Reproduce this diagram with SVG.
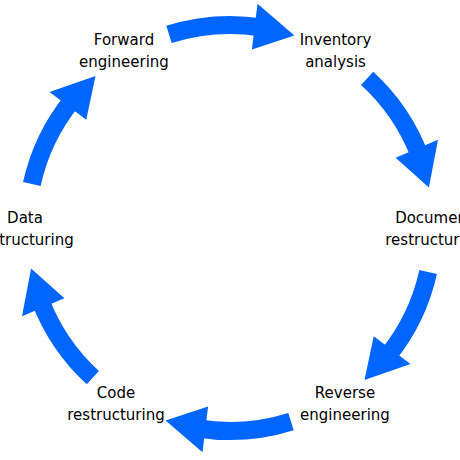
<svg xmlns="http://www.w3.org/2000/svg" xmlns:xlink="http://www.w3.org/1999/xlink" width="460" height="460" viewBox="0 0 460 460">
<style>
.lbl{font-family:"DejaVu Sans",sans-serif;font-size:15px;fill:#000;text-anchor:middle}
.arc{fill:none;stroke:#0066ff;stroke-width:18}
.head{fill:#0066ff}
</style>
<defs>
<g id="arrow">
<path class="arc" d="M169.0,34.4 A203,203 0 0 1 261.8,27.5"/>
<polygon class="head" points="257.5,3.7 294.4,35.5 251.9,49.4"/>
</g>
</defs>
<rect width="460" height="460" fill="#fff"/>
<g id="connectors">
<use xlink:href="#arrow" href="#arrow"/>
<use xlink:href="#arrow" href="#arrow" transform="rotate(60 230 228)"/>
<use xlink:href="#arrow" href="#arrow" transform="rotate(120 230 228)"/>
<use xlink:href="#arrow" href="#arrow" transform="rotate(180 230 228)"/>
<use xlink:href="#arrow" href="#arrow" transform="rotate(240 230 228)"/>
<use xlink:href="#arrow" href="#arrow" transform="rotate(300 230 228)"/>
</g>
<g id="forward"><text class="lbl" x="124" y="45">Forward</text><text class="lbl" x="124" y="67">engineering</text></g>
<g id="inventory"><text class="lbl" x="335.5" y="45">Inventory</text><text class="lbl" x="335.5" y="67">analysis</text></g>
<g id="document"><text class="lbl" x="434" y="223">Document</text><text class="lbl" x="434" y="245">restructuring</text></g>
<g id="reverse"><text class="lbl" x="345" y="398">Reverse</text><text class="lbl" x="345" y="420">engineering</text></g>
<g id="code"><text class="lbl" x="116" y="398">Code</text><text class="lbl" x="116" y="420">restructuring</text></g>
<g id="data"><text class="lbl" x="25" y="223">Data</text><text class="lbl" x="25" y="245">restructuring</text></g>
</svg>
